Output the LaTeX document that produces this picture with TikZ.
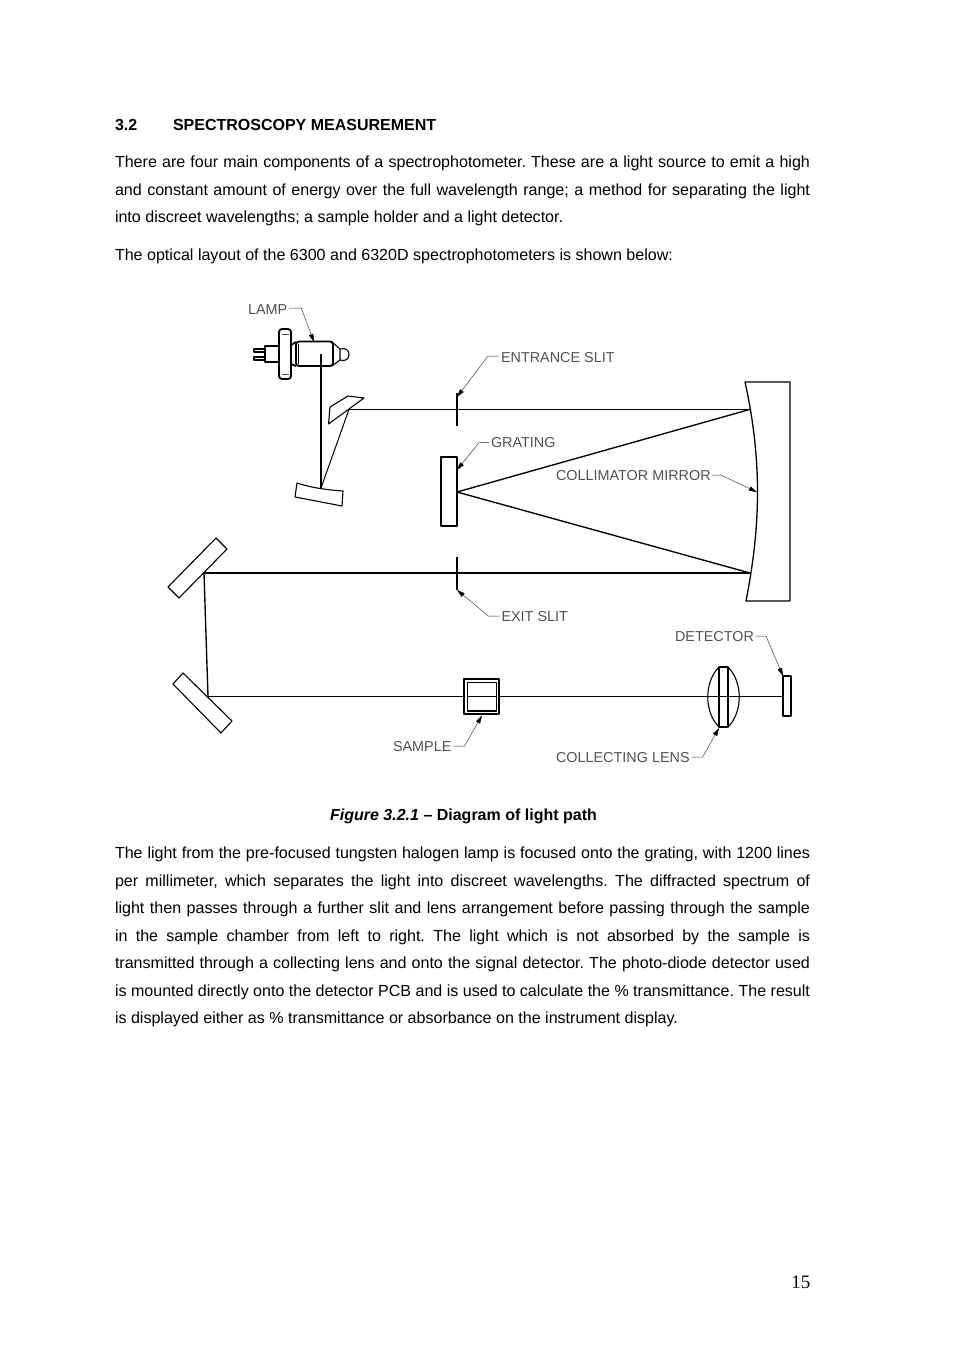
\documentclass[tikz,border=0pt]{standalone}
\usepackage{fontspec}
\setmainfont{Liberation Sans}
\newfontfamily\pagefont{Liberation Serif}
\usetikzlibrary{arrows.meta}
\tikzset{
  every node/.style={inner sep=0pt,outer sep=0pt},
  body/.style={anchor=base west,font=\fontsize{16.06}{18}\selectfont\frenchspacing,text=black},
  head/.style={anchor=base west,font=\fontsize{16}{18}\selectfont\bfseries,text=black},
  lbl/.style={anchor=base west,font=\fontsize{14.4}{16}\selectfont,text=black!68},
  beam/.style={line width=1pt,black},
  ray/.style={line width=1.35pt,black},
  thickbeam/.style={line width=1.7pt,black},
  part/.style={line width=1.1pt,black,line join=round},
  heavy/.style={line width=1.8pt,black,line join=round},
  leader/.style={line width=0.45pt,black!80,-{Triangle[length=8pt,width=4.5pt,black]}},
}
\newcommand{\jline}[1]{\makebox[695pt][s]{#1}}
\begin{document}
\begin{tikzpicture}[x=1pt,y=-1pt]
\useasboundingbox (0,0) rectangle (954,1351);
\fill[white] (0,0) rectangle (954,1351);
% heading and text above the figure
\node[head] (secnum) at (115,130.3) {3.2};
\node[head] (sectitle) at (173,130.3) {SPECTROSCOPY MEASUREMENT};
\node[body] (p1a) at (115,167.8) {\jline{There are four main components of a spectrophotometer. These are a light source to emit a high}};
\node[body] (p1b) at (115,195.6) {\jline{and constant amount of energy over the full wavelength range; a method for separating the light}};
\node[body] (p1c) at (115,222.6) {into discreet wavelengths; a sample holder and a light detector.};
\node[body] (p2) at (115,260) {The optical layout of the 6300 and 6320D spectrophotometers is shown below:};
% lamp
\draw[part,fill=white] (254,349) rectangle (265,352);
\draw[part,fill=white] (254,357) rectangle (265,360);
\draw[heavy,fill=white] (279,346) -- (265,346) -- (265,362) -- (279,362);
\draw[heavy,fill=white,rounded corners=3pt] (279,329) rectangle (291,379);
\draw[line width=0.8pt,black!70] (281.5,334) -- (288.5,334) (281.5,374) -- (288.5,374);
\draw[heavy] (291,345) -- (296,342) (291,364) -- (296,366);
\draw[part] (340,349) .. controls (352,345) and (352,364) .. (340,360);
\draw[part,fill=white] (332,342) -- (340,349) -- (340,360) -- (332,366) -- cycle;
\draw[heavy,fill=white,rounded corners=3pt] (296,341.5) rectangle (333,366);
\draw[line width=0.8pt,black] (298.5,344) -- (298.5,364);
\coordinate (lampcentre) at (321,354);
% small mirrors at lamp
\coordinate (foldhit) at (349,409.4);
\coordinate (conchit) at (321,488);
\draw[part,fill=white] (328.5,424) -- (330,407) -- (348,396) -- (364,398) -- (349,409) -- cycle;
\draw[part,fill=white] (297,483) .. controls (312,488) and (328,490) .. (343,491) -- (342,506) -- (295,497) -- cycle;
\draw[thickbeam] (lampcentre) -- (conchit);
\draw[beam] (conchit) -- (foldhit);
% collimator mirror
\coordinate (mirtop) at (750,409.4);
\coordinate (mirbot) at (750,573);
\coordinate (mirmid) at (757.5,492);
\draw[part,line width=1.3pt,fill=white] (745,382) -- (790,382) -- (790,601) -- (746,601) .. controls (753,565) and (757.5,530) .. (757.5,492) .. controls (757.5,455) and (753,418) .. (745,382) -- cycle;
% grating
\coordinate (gratemid) at (457,492);
\draw[part,fill=white] (441,457) rectangle (457,526);
\draw[heavy] (457,457) -- (457,526);
% rays
\draw[beam] (foldhit) -- (mirtop);
\draw[ray] (gratemid) -- (mirtop);
\draw[ray] (gratemid) -- (mirbot);
% slits
\draw[heavy] (457,393) -- (457,426);
\draw[heavy] (457,557) -- (457,590);
% folding mirrors left
\coordinate (folda) at (204,573);
\coordinate (foldb) at (208,696.5);
\draw[part,fill=white] (216,538) -- (227,549) -- (179,598) -- (168,587) -- cycle;
\draw[part,fill=white] (183,673) -- (173,684) -- (221,733) -- (232,721) -- cycle;
\draw[thickbeam] (folda) -- (mirbot);
\draw[ray] (folda) -- (foldb);
% detector, lens, sample
\coordinate (detfront) at (783,696.5);
\draw[beam] (foldb) -- (detfront);
\draw[part,fill=white] (783,676) rectangle (791,716);
\draw[part] (719,667) .. controls (704,682) and (704,712) .. (719,727);
\draw[part] (728,667) .. controls (743,682) and (743,712) .. (728,727);
\draw[part,fill=white] (719,667) rectangle (728,727);
\draw[beam] (719,696.5) -- (728,696.5);
\draw[heavy] (719,667) -- (719,727) (728,667) -- (728,727);
\draw[heavy,fill=white] (464,679) rectangle (499,714);
\draw[part,line width=1.4pt] (467.5,682.5) rectangle (496.5,711);
\draw[beam] (467.5,696.5) -- (496.5,696.5);
% labels and leaders
\node[lbl] (lamp) at (248,314) {LAMP};
\node[lbl] (entr) at (501,362) {ENTRANCE SLIT};
\node[lbl] (grat) at (491,447.5) {GRATING};
\node[lbl] (coll) at (556,480) {COLLIMATOR MIRROR};
\node[lbl] (exit) at (501.5,621) {EXIT SLIT};
\node[lbl] (dete) at (675,641) {DETECTOR};
\node[lbl] (samp) at (393,751) {SAMPLE};
\node[lbl] (clen) at (556,762) {COLLECTING LENS};
\coordinate (tlamp) at (314,342);
\coordinate (tentr) at (457,397);
\coordinate (tgrat) at (457,470);
\coordinate (tcoll) at (757,492);
\coordinate (texit) at (457,590);
\coordinate (tdete) at (783,676);
\coordinate (tsamp) at (482,715.5);
\coordinate (tclen) at (719,728);
\draw[leader] (lamp.east) ++(2,-1) -- ++(12,0) -- (tlamp);
\draw[leader] (entr.west) ++(-2,-1) -- ++(-11,0) -- (tentr);
\draw[leader] (grat.west) ++(-2,0) -- ++(-10,0) -- (tgrat);
\draw[leader] (coll.east) ++(2,0) -- ++(8,0) -- (tcoll);
\draw[leader] (exit.west) ++(-2,0) -- ++(-11,0) -- (texit);
\draw[leader] (dete.east) ++(2,0) -- ++(10,0) -- (tdete);
\draw[leader] (samp.east) ++(2,0) -- ++(11,0) -- (tsamp);
\draw[leader] (clen.east) ++(2,0) -- ++(11,0) -- (tclen);
% caption and text below
\node[anchor=base,font=\fontsize{16}{18}\selectfont\bfseries] (cap) at (463.5,820) {\textit{Figure 3.2.1} – Diagram of light path};
\node[body] (q1) at (115,858) {\jline{The light from the pre-focused tungsten halogen lamp is focused onto the grating, with 1200 lines}};
\node[body] (q2) at (115,886) {\jline{per millimeter, which separates the light into discreet wavelengths. The diffracted spectrum of}};
\node[body] (q3) at (115,913) {\jline{light then passes through a further slit and lens arrangement before passing through the sample}};
\node[body] (q4) at (115,941) {\jline{in the sample chamber from left to right. The light which is not absorbed by the sample is}};
\node[body] (q5) at (115,968) {\jline{transmitted through a collecting lens and onto the signal detector. The photo-diode detector used}};
\node[body] (q6) at (115,996) {\jline{is mounted directly onto the detector PCB and is used to calculate the \% transmittance. The result}};
\node[body] (q7) at (115,1023) {is displayed either as \% transmittance or absorbance on the instrument display.};
\node[anchor=base east,font=\fontsize{19}{21}\selectfont\pagefont] (pageno) at (810.3,1288) {15};
\end{tikzpicture}
\end{document}
